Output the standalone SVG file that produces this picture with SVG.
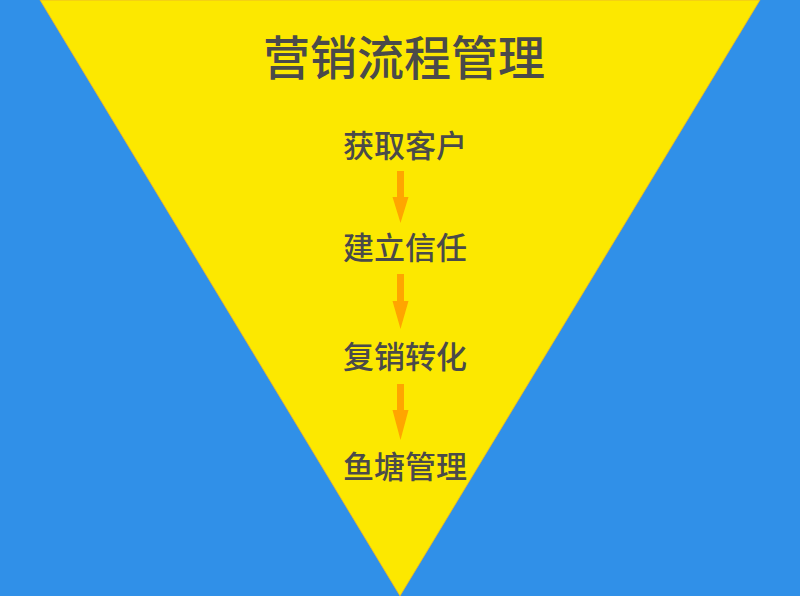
<svg xmlns="http://www.w3.org/2000/svg" width="800" height="596" viewBox="0 0 800 596">
<style>
.t{font-family:"Noto Sans CJK SC","Noto Sans",sans-serif;fill:#4a4a4a;text-anchor:middle;dominant-baseline:central}
.title{font-size:47px;font-weight:500}
.item{font-size:31px;font-weight:500}
.arr{fill:#FFA500}
</style>
<rect width="800" height="596" fill="#3090E8"/>
<polygon points="40,0 760,0 400,596" fill="#FCE800" stroke="#E8B030" stroke-width="0.8"/>
<g id="title"><text class="t title" x="404" y="54">营销流程管理</text></g>
<g id="n1"><text class="t item" x="405" y="143">获取客户</text></g>
<g id="n2"><text class="t item" x="405" y="245">建立信任</text></g>
<g id="n3"><text class="t item" x="405" y="354">复销转化</text></g>
<g id="n4"><text class="t item" x="405" y="464">鱼塘管理</text></g>
<g id="connectors">
<path class="arr" d="M397,171H404V197H408.5L400.5,223L392.5,197H397Z"/>
<path class="arr" d="M397,274H404V301H408.5L400.5,329L392.5,301H397Z"/>
<path class="arr" d="M397,384H404V410H408.5L400.5,440L392.5,410H397Z"/>
</g>
</svg>
